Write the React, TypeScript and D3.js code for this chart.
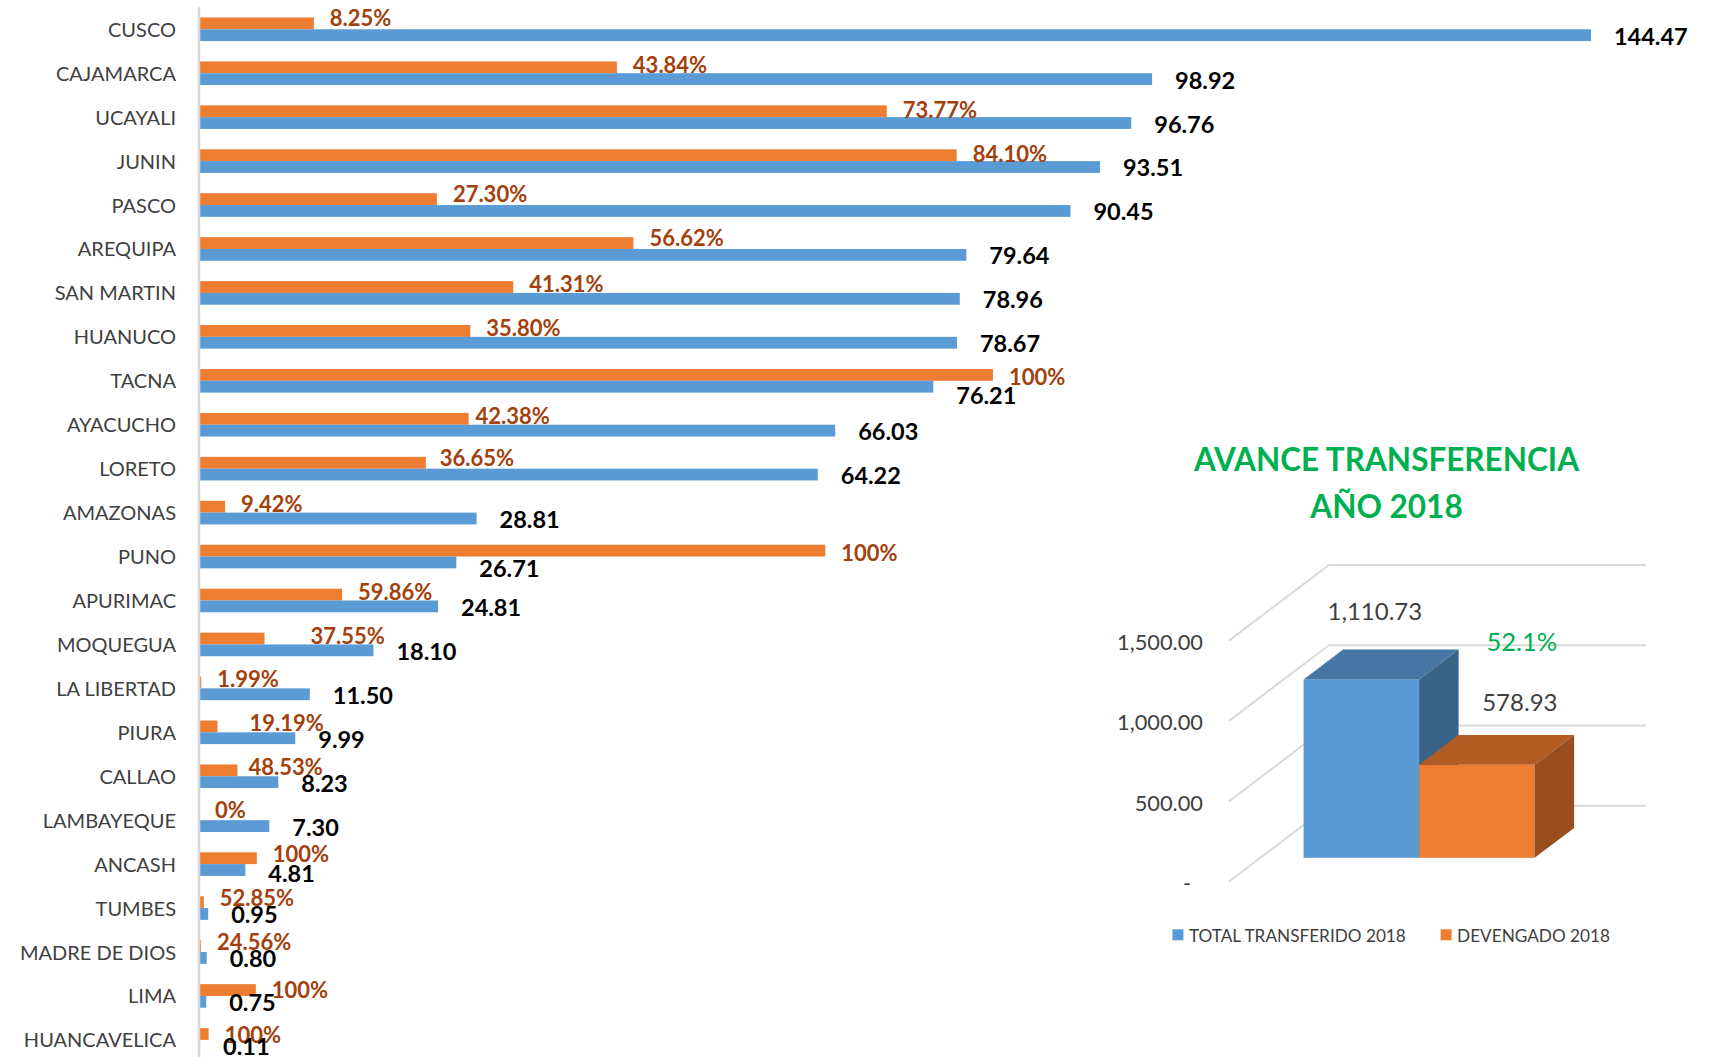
import React, { useEffect } from "react";
import * as d3 from "d3";

// ---------- DATA ----------
const categories = [
  "CUSCO", "CAJAMARCA", "UCAYALI", "JUNIN", "PASCO", "AREQUIPA", "SAN MARTIN", "HUANUCO",
  "TACNA", "AYACUCHO", "LORETO", "AMAZONAS", "PUNO", "APURIMAC", "MOQUEGUA", "LA LIBERTAD",
  "PIURA", "CALLAO", "LAMBAYEQUE", "ANCASH", "TUMBES", "MADRE DE DIOS", "LIMA", "HUANCAVELICA",
];
const transferido = [
  144.47, 98.92, 96.76, 93.51, 90.45, 79.64, 78.96, 78.67,
  76.21, 66.03, 64.22, 28.81, 26.71, 24.81, 18.1, 11.5,
  9.99, 8.23, 7.3, 4.81, 0.95, 0.8, 0.75, 0.11,
];
const devengado = [
  11.92, 43.37, 71.38, 78.64, 24.69, 45.09, 32.62, 28.16,
  82.4, 27.98, 23.54, 2.71, 65.0, 14.85, 6.8, 0.23,
  1.92, 3.99, 0, 6.0, 0.5, 0.2, 5.9, 1.0,
];
const avance = [
  "8.25%", "43.84%", "73.77%", "84.10%", "27.30%", "56.62%", "41.31%", "35.80%",
  "100%", "42.38%", "36.65%", "9.42%", "100%", "59.86%", "37.55%", "1.99%",
  "19.19%", "48.53%", "0%", "100%", "52.85%", "24.56%", "100%", "100%",
];

const summaryNames = ["TOTAL TRANSFERIDO 2018", "DEVENGADO 2018"];
const summaryValues = [1110.73, 578.93];
const summaryTicks = [0, 500, 1000, 1500];
const titleLines = ["AVANCE TRANSFERENCIA", "AÑO 2018"];

// ---------- STYLE / LAYOUT ----------
const W = 1714;
const H = 1057;
const FONT = "Lato, 'Open Sans', sans-serif";
const BLUE = "#5B9BD5";
const ORANGE = "#ED7D31";
const BLUE_TOP = "#4677A4";
const BLUE_SIDE = "#3A6487";
const ORANGE_TOP = "#B35C22";
const ORANGE_SIDE = "#984F1D";
const PCT_COLOR = "#A3410D";
const GRID = "#D9D9D9";
const TEXT = "#404040";

// manual label nudges (as placed in the original)
const nudges: Record<string, { bdy?: number; odx?: number; ody?: number }> = {
  CUSCO: { ody: -2.5 },
  CAJAMARCA: { ody: 1 },
  UCAYALI: { ody: 2 },
  JUNIN: { ody: 2 },
  PASCO: { ody: -2.5 },
  AREQUIPA: { ody: -2.5 },
  TACNA: { bdy: 7.5, ody: 5.5 },
  AYACUCHO: { odx: -9 },
  LORETO: { odx: -2, ody: -1.5 },
  PUNO: { bdy: 5.5, ody: 5.5 },
  MOQUEGUA: { odx: 30 },
  PIURA: { odx: 16 },
  CALLAO: { odx: -5 },
  LAMBAYEQUE: { ody: -1 },
  ANCASH: { bdy: 2, ody: -1 },
  TUMBES: { ody: -1 },
  "MADRE DE DIOS": { ody: -1 },
  LIMA: { ody: 3 },
  HUANCAVELICA: { ody: 4.5 },
};

export default function App() {
  useEffect(() => {
    document.body.style.margin = "0";
  }, []);

  // ---- left bar chart ----
  const x0 = 199;
  const pxPerUnit = 9.635;
  const x = d3.scaleLinear().domain([0, 150]).range([x0, x0 + 150 * pxPerUnit]);
  const y = d3
    .scaleBand<string>()
    .domain(categories)
    .range([7.3, 7.3 + categories.length * 43.94]);
  const barH = 11.8;

  // ---- 3D summary chart ----
  const wallX = 1229;
  const wallBackDx = 100;
  const wallBackDy = 75.7;
  const backRight = 1646;
  const floorFront = 881.5;
  const vy = d3.scaleLinear().domain([0, 1500]).range([floorFront, floorFront - 1500 * (80.3 / 500)]);
  const hScale = d3.scaleLinear().domain([0, 1500]).range([0, 1500 * (80.3 / 500)]);
  const boxFrontShift = 0.313;
  const boxDepth = 0.395;
  const boxBottom = floorFront - wallBackDy * boxFrontShift;
  const bdx = wallBackDx * boxDepth;
  const bdy = wallBackDy * boxDepth;
  const xs = d3.scaleBand<string>().domain(summaryNames).range([1303.6, 1534.6]).padding(0);
  const faceColors = [
    [BLUE, BLUE_TOP, BLUE_SIDE],
    [ORANGE, ORANGE_TOP, ORANGE_SIDE],
  ];
  const valueLabelOffsets = [
    [13.5, -69],
    [43, -63],
  ];
  const fmtTick = d3.format(",.2f");
  const pct = d3.format(".1%")(summaryValues[1] / summaryValues[0]);

  return (
    <svg
      width={W}
      height={H}
      viewBox={`0 0 ${W} ${H}`}
      style={{ position: "absolute", left: 0, top: 0, display: "block", background: "#fff" }}
      fontFamily={FONT}
    >
      <rect x={0} y={0} width={W} height={H} fill="#fff" />

      {/* category labels */}
      {categories.map((c) => (
        <text
          key={"cl" + c}
          x={176}
          y={(y(c) as number) + y.bandwidth() / 2 - 0.5}
          textAnchor="end"
          dominantBaseline="central"
          fontSize={20}
          fill={TEXT}
        >
          {c}
        </text>
      ))}

      {/* bars */}
      {categories.map((c, i) => {
        const cy = (y(c) as number) + y.bandwidth() / 2;
        return (
          <g key={"b" + c}>
            <rect x={x(0)} y={cy - barH} width={x(devengado[i]) - x(0)} height={barH} fill={ORANGE} />
            <rect x={x(0)} y={cy} width={x(transferido[i]) - x(0)} height={barH} fill={BLUE} />
          </g>
        );
      })}

      {/* axis line */}
      <line x1={x0} x2={x0} y1={7.3} y2={H} stroke={GRID} strokeWidth={2.5} />

      {/* labels */}
      {categories.map((c, i) => {
        const cy = (y(c) as number) + y.bandwidth() / 2;
        const n = nudges[c] || {};
        return (
          <g key={"l" + c}>
            <text
              x={x(devengado[i]) + 16 + (n.odx || 0)}
              y={cy - barH / 2 - 3.5 + (n.ody || 0)}
              dominantBaseline="central"
              fontSize={22}
              fontWeight={700}
              fill={PCT_COLOR}
            >
              {avance[i]}
            </text>
            <text
              x={x(transferido[i]) + 23}
              y={cy + barH / 2 + 0.5 + (n.bdy || 0)}
              dominantBaseline="central"
              fontSize={23.5}
              fontWeight={700}
              fill="#000"
            >
              {d3.format(".2f")(transferido[i])}
            </text>
          </g>
        );
      })}

      {/* ---- summary chart ---- */}
      {titleLines.map((t, i) => (
        <text
          key={"t" + i}
          x={1386.5}
          y={459 + i * 46.5}
          textAnchor="middle"
          dominantBaseline="central"
          fontSize={31.5}
          fontWeight={700}
          fill="#00B050"
        >
          {t}
        </text>
      ))}

      {/* gridlines */}
      {summaryTicks.map((t) => {
        const yf = vy(t);
        return (
          <g key={"g" + t}>
            <polyline
              points={`${wallX},${yf} ${wallX + wallBackDx},${yf - wallBackDy} ${backRight},${yf - wallBackDy}`}
              fill="none"
              stroke={GRID}
              strokeWidth={2}
            />
            <text
              x={t === 0 ? 1191 : 1203}
              y={yf + 1}
              textAnchor="end"
              dominantBaseline="central"
              fontSize={21.8}
              fill={TEXT}
            >
              {t === 0 ? "-" : fmtTick(t)}
            </text>
          </g>
        );
      })}

      {/* 3D boxes */}
      {summaryNames.map((s, i) => {
        const bx0 = xs(s) as number;
        const bx1 = bx0 + xs.bandwidth();
        const top = boxBottom - hScale(summaryValues[i]);
        const [cf, ct, cs] = faceColors[i];
        return (
          <g key={"box" + s}>
            <rect x={bx0} y={top} width={bx1 - bx0} height={boxBottom - top} fill={cf} />
            <polygon
              points={`${bx0},${top} ${bx1},${top} ${bx1 + bdx},${top - bdy} ${bx0 + bdx},${top - bdy}`}
              fill={ct}
            />
            <polygon
              points={`${bx1},${top} ${bx1 + bdx},${top - bdy} ${bx1 + bdx},${boxBottom - bdy} ${bx1},${boxBottom}`}
              fill={cs}
            />
          </g>
        );
      })}

      {/* value labels */}
      {summaryNames.map((s, i) => {
        const bx0 = xs(s) as number;
        const cx = bx0 + xs.bandwidth() / 2;
        const top = boxBottom - hScale(summaryValues[i]);
        return (
          <text
            key={"v" + s}
            x={cx + valueLabelOffsets[i][0]}
            y={top + valueLabelOffsets[i][1]}
            textAnchor="middle"
            dominantBaseline="central"
            fontSize={24}
            fill={TEXT}
          >
            {fmtTick(summaryValues[i])}
          </text>
        );
      })}
      {(() => {
        const bx0 = xs(summaryNames[1]) as number;
        const cx = bx0 + xs.bandwidth() / 2;
        const top = boxBottom - hScale(summaryValues[1]);
        return (
          <text
            x={cx + valueLabelOffsets[1][0] + 2}
            y={top + valueLabelOffsets[1][1] - 61}
            textAnchor="middle"
            dominantBaseline="central"
            fontSize={25.5}
            fill="#00B050"
          >
            {pct}
          </text>
        );
      })()}

      {/* legend */}
      {summaryNames.map((s, i) => {
        const lx = [1172.4, 1440.6][i];
        return (
          <g key={"lg" + s}>
            <rect x={lx} y={929.3} width={11} height={11} fill={faceColors[i][0]} />
            <text x={lx + 16.5} y={935} dominantBaseline="central" fontSize={17.2} fill={TEXT}>
              {s}
            </text>
          </g>
        );
      })}
    </svg>
  );
}
